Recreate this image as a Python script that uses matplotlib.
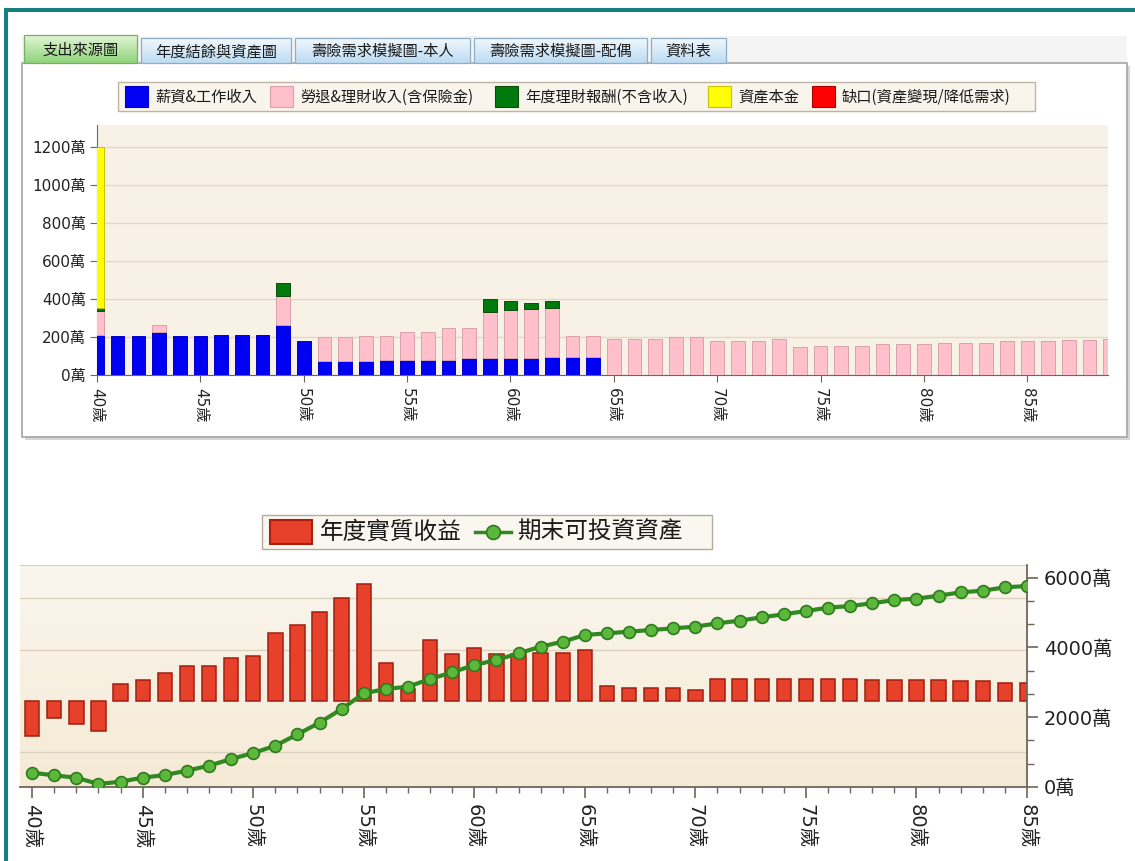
import matplotlib
matplotlib.use('Agg')
import matplotlib.pyplot as plt
import numpy as np
from matplotlib.patches import Rectangle
from matplotlib.ticker import MultipleLocator, FixedLocator, FuncFormatter

plt.rcParams['font.family'] = ['Noto Sans CJK TC', 'DejaVu Sans']
NUM_FONT = ['DejaVu Sans', 'Noto Sans CJK TC']

W, H = 1135, 861

# tab strip
tab_names = ['支出來源圖', '年度結餘與資產圖', '壽險需求模擬圖-本人', '壽險需求模擬圖-配偶', '資料表']

# income source chart (萬)
source_labels = ['薪資&工作收入', '勞退&理財收入(含保險金)', '年度理財報酬(不含收入)',
                 '資產本金', '缺口(資產變現/降低需求)']
source_colors = ['#0000f2', '#ffbfcb', '#007a0c', '#ffff00', '#ff0000']
source_edges = ['#0000c8', '#d8a2ac', '#0b4d0b', '#c8c200', '#b00000']

ages_top = np.arange(40, 90)
salary = [212, 205, 205, 228, 205, 205, 212, 212, 212, 263, 179, 74, 74, 74, 81,
          81, 81, 81, 88, 88, 88, 88, 93, 93, 93] + [0] * 25
pension = [126, 0, 0, 33, 0, 0, 0, 0, 0, 153, 0, 124, 124, 131, 124,
           145, 145, 165, 158, 245, 254, 259, 261, 112, 112,
           189, 189, 189, 198, 198, 181, 181, 181, 189, 147,
           154, 154, 154, 163, 163, 163, 170, 170, 170, 177,
           177, 177, 184, 184, 191]
returns = [13, 0, 0, 0, 0, 0, 0, 0, 0, 66, 0, 0, 0, 0, 0,
           0, 0, 0, 0, 69, 47, 34, 35, 0, 0] + [0] * 25
principal = [849] + [0] * 49
shortfall = [0] * 50

# yearly real gain and end-of-year investable assets (萬)
ages_bot = np.arange(40, 86)
real_gain = [-68, -34, -44, -58, 34, 41, 54, 69, 69, 84, 88, 133, 148, 173, 201,
             228, 75, 23, 118, 91, 103, 91, 91, 93, 93, 100, 29, 25, 25, 25,
             21, 43, 43, 43, 43, 43, 43, 43, 41, 41, 41, 41, 38, 38, 35, 35]
assets = [410, 334, 267, 86, 153, 267, 344, 467, 611, 802, 974, 1184, 1509, 1843, 2235,
          2684, 2808, 2875, 3095, 3286, 3495, 3639, 3830, 4021, 4163, 4355, 4403, 4451, 4499, 4547,
          4594, 4690, 4766, 4862, 4948, 5043, 5138, 5186, 5264, 5358, 5396, 5482, 5578, 5625, 5721,
          5759]
bottom_labels = ['年度實質收益', '期末可投資資產']


def px(x0, y0, x1, y1):
    # pixel box (top-left origin) -> figure fraction rect
    return [x0 / W, 1 - y1 / H, (x1 - x0) / W, (y1 - y0) / H]


def hex_rgb(c):
    c = c.lstrip('#')
    return np.array([int(c[i:i + 2], 16) / 255 for i in (0, 2, 4)])


def vgrad(c_top, c_bot, n=64):
    t = np.linspace(0, 1, n)[:, None, None]
    return (1 - t) * hex_rgb(c_top) + t * hex_rgb(c_bot)


fig = plt.figure(figsize=(W / 100, H / 100), dpi=100)
fig.patch.set_facecolor('white')

bg = fig.add_axes([0, 0, 1, 1], zorder=0)
bg.axis('off')

# outer frame
bg.add_patch(Rectangle((4, 8), W, 3.5, color='#13817f', lw=0))
bg.add_patch(Rectangle((4, 8), 3.5, H, color='#13817f', lw=0))

# tab strip + panel
bg.add_patch(Rectangle((22, 36), 1105, 27, facecolor='#f4f4f4', lw=0))
bg.add_patch(Rectangle((25, 66), 1105, 374, facecolor='#d6d6d6', lw=0))
bg.add_patch(Rectangle((22, 63), 1105, 374, facecolor='white', edgecolor='#a4a4a4', lw=1.2))

tab_x = [(24, 137), (141, 291), (295, 470), (474, 647), (651, 726)]
for i, (name, (x0, x1)) in enumerate(zip(tab_names, tab_x)):
    if i == 0:
        top, c1, c2, ec = 35, '#e2f5d6', '#8fd47a', '#7cae6a'
    else:
        top, c1, c2, ec = 38, '#f2f8fd', '#bcdcf3', '#8eaec8'
    bg.imshow(vgrad(c1, c2), extent=(x0, x1, 63, top), aspect='auto', zorder=1)
    bg.add_patch(Rectangle((x0, top), x1 - x0, 63 - top, fill=False, edgecolor=ec, lw=0.9, zorder=2))
    bg.text((x0 + x1) / 2, (top + 63) / 2 + 1, name, ha='center', va='center', fontsize=11,
            color='#1a1a1a', zorder=3)

# legend for the income source chart
bg.add_patch(Rectangle((118, 82), 917, 29, facecolor='#faf5ec', edgecolor='#bdb4a4', lw=1, zorder=1))
sq_x = [125, 270, 495, 708, 812]
for x, lab, c, ec in zip(sq_x, source_labels, source_colors, source_edges):
    bg.add_patch(Rectangle((x, 86), 23, 21, facecolor=c, edgecolor=ec, lw=0.8, zorder=2))
    bg.text(x + 30, 97, lab, ha='left', va='center', fontsize=11, color='#1a1a1a', zorder=3)

# legend for the gain/asset chart
bg.add_patch(Rectangle((262, 515), 450, 34, facecolor='#faf7f0', edgecolor='#b3aa9a', lw=1, zorder=1))
bg.add_patch(Rectangle((270, 520), 42, 24, facecolor='#e8412b', edgecolor='#a82010', lw=1.5, zorder=2))
bg.text(320, 532, bottom_labels[0], ha='left', va='center', fontsize=17, color='#1a1a1a', zorder=3)
bg.plot([475, 511], [532, 532], color='#2f8a1f', lw=2.5, zorder=2)
bg.plot([493], [532], 'o', ms=10, mfc='#5cb83a', mec='#2f7a1f', mew=1.2, zorder=3)
bg.text(517, 532, bottom_labels[1], ha='left', va='center', fontsize=17, color='#1a1a1a', zorder=3)

bg.set_xlim(0, W)
bg.set_ylim(H, 0)

# ---- income source stacked bars ----
ax = fig.add_axes(px(97, 125, 1108, 375), zorder=2)
ax.set_facecolor('#f8f1e6')
bw = 0.66
base = np.zeros(len(ages_top))
for vals, c, ec in zip([salary, pension, returns, principal, shortfall], source_colors, source_edges):
    vals = np.array(vals, dtype=float)
    keep = vals > 0
    if keep.any():
        ax.bar(ages_top[keep], vals[keep], bw, bottom=base[keep], color=c, edgecolor=ec,
               linewidth=0.7, zorder=3)
    base += vals

ax.set_xlim(40, 88.9)
ax.set_ylim(0, 1316)
ax.yaxis.set_major_locator(FixedLocator(range(0, 1201, 200)))
ax.yaxis.set_major_formatter(FuncFormatter(lambda v, p: f'{int(v)}萬'))
ax.xaxis.set_major_locator(FixedLocator(range(40, 86, 5)))
ax.xaxis.set_major_formatter(FuncFormatter(lambda v, p: f'{int(v)}歲'))
ax.grid(axis='y', color='#e2d8c5', lw=1)
ax.set_axisbelow(True)
for s in ['top', 'right']:
    ax.spines[s].set_visible(False)
ax.spines['left'].set_color('#6f6558')
ax.spines['bottom'].set_color('#6f6558')
ax.tick_params(axis='y', length=5, color='#6f6558', labelsize=11, pad=3)
ax.tick_params(axis='x', length=5, color='#6f6558', labelsize=11, pad=4, labelrotation=270)
for t in ax.get_yticklabels() + ax.get_xticklabels():
    t.set_family(NUM_FONT)
    t.set_color('#222222')
for t in ax.get_xticklabels():
    t.set_va('top')

# ---- real gain bars + investable assets line ----
ax2 = fig.add_axes(px(20, 565, 1027, 787), zorder=2)
ax2.imshow(vgrad('#faf6ee', '#f5ead5'), extent=(0, 1, 0, 1), transform=ax2.transAxes,
           aspect='auto', zorder=0)
ax2.bar(ages_bot, real_gain, 0.65, color='#e8412b', edgecolor='#a01e0e', linewidth=1.1, zorder=3)
ax2.set_xlim(39.45, 85)
ax2.set_ylim(-167.6, 265)
ax2.yaxis.set_major_locator(FixedLocator([-100, 100, 200]))
ax2.grid(axis='y', color='#ddd2bf', lw=1)
ax2.set_axisbelow(True)
ax2.spines['left'].set_visible(False)
ax2.spines['right'].set_visible(False)
ax2.spines['top'].set_color('#d8cfbf')
ax2.spines['bottom'].set_color('#6f6558')
ax2.spines['bottom'].set_linewidth(1.3)
ax2.xaxis.set_major_locator(MultipleLocator(5))
ax2.xaxis.set_minor_locator(MultipleLocator(1))
ax2.xaxis.set_major_formatter(FuncFormatter(lambda v, p: f'{int(v)}歲'))
ax2.tick_params(axis='x', which='major', length=8, width=1.2, color='#6f6558', labelsize=14,
                pad=4, labelrotation=270)
ax2.tick_params(axis='x', which='minor', length=4, width=1, color='#6f6558')
for t in ax2.get_xticklabels():
    t.set_family(NUM_FONT)
    t.set_va('top')
    t.set_color('#222222')

ax3 = ax2.twinx()
# twinx turns the left ticks back on, so hide them afterwards
ax2.tick_params(axis='y', which='both', left=False, right=False, labelleft=False, labelright=False)
ax3.plot(ages_bot, assets, color='#2f8a1f', lw=3, marker='o', ms=8.5,
         mfc='#5cb83a', mec='#2f7a1f', mew=1.2, zorder=4)
ax3.set_ylim(0, 6361)
ax3.yaxis.set_major_locator(FixedLocator(range(0, 6001, 2000)))
ax3.yaxis.set_minor_locator(MultipleLocator(2000 / 3))
ax3.yaxis.set_major_formatter(FuncFormatter(lambda v, p: f'{int(v)}萬'))
ax3.tick_params(axis='y', which='major', length=8, width=1.2, color='#6f6558', labelsize=14, pad=4)
ax3.tick_params(axis='y', which='minor', length=5, width=1, color='#6f6558')
for s in ['left', 'top', 'bottom']:
    ax3.spines[s].set_visible(False)
ax3.spines['right'].set_color('#6f6558')
ax3.spines['right'].set_linewidth(1.3)
for t in ax3.get_yticklabels():
    t.set_family(NUM_FONT)
    t.set_color('#222222')

fig.savefig('out.png', dpi=100)
